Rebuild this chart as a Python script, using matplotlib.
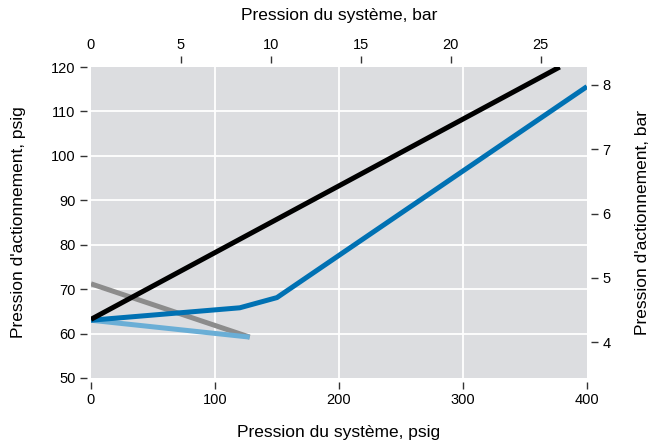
import matplotlib
matplotlib.use("Agg")
import matplotlib.pyplot as plt

plt.rcParams['font.family'] = ['Liberation Sans', 'DejaVu Sans']

PSI_PER_BAR = 14.5038

# Data (psig)
black_x = [0, 378]
black_y = [63.2, 120]
blue_x = [0, 120, 150, 400]
blue_y = [63.0, 65.8, 68.1, 115.6]
lightblue_x = [0, 128]
lightblue_y = [63.0, 59.2]
gray_x = [0, 128]
gray_y = [71.2, 59.2]

xticks_psig = [0, 100, 200, 300, 400]
yticks_psig = [50, 60, 70, 80, 90, 100, 110, 120]
xticks_bar = [0, 5, 10, 15, 20, 25]
yticks_bar = [4, 5, 6, 7, 8]

fig = plt.figure(figsize=(6.64, 4.45), dpi=100)
ax = fig.add_axes([0.137, 0.1506, 0.747, 0.6988])
ax.set_facecolor('#dcdde0')
ax.set_xlim(0, 400)
ax.set_ylim(50, 120)

for v in [100, 200, 300]:
    ax.axvline(v, color='white', lw=1.3, zorder=1)
for v in [60, 70, 80, 90, 100, 110]:
    ax.axhline(v, color='white', lw=1.3, zorder=1)

lw = 3.6
ax.plot(gray_x, gray_y, color='#8c8c8c', lw=lw, solid_capstyle='butt', zorder=3)
ax.plot(lightblue_x, lightblue_y, color='#6aaed6', lw=lw, solid_capstyle='butt', zorder=3)
ax.plot(blue_x, blue_y, color='#0071b3', lw=lw, solid_capstyle='butt', zorder=4)
ax.plot(black_x, black_y, color='black', lw=lw, solid_capstyle='butt', zorder=5)

tick_kw = dict(direction='out', length=5, width=1, color='#333333', labelsize=10.5,
               labelcolor='black', pad=3)


def hide_spines(a, offset_sides):
    for name, s in a.spines.items():
        s.set_visible(False)
        if name in offset_sides:
            s.set_position(('outward', 3))


ax.set_xticks(xticks_psig)
ax.set_yticks(yticks_psig)
ax.tick_params(axis='both', **tick_kw)
hide_spines(ax, ['left', 'bottom'])
for t in (ax.xaxis.get_major_ticks()[0], ax.xaxis.get_major_ticks()[-1]):
    t.tick1line.set_visible(False)
for t in (ax.yaxis.get_major_ticks()[0], ax.yaxis.get_major_ticks()[-1]):
    t.tick1line.set_visible(False)
ax.set_xlabel('Pression du système, psig', fontsize=12.5, labelpad=13)
ax.set_ylabel("Pression d'actionnement, psig", fontsize=12.5, labelpad=18)

axt = ax.twiny()
axt.set_xlim(0, 400 / PSI_PER_BAR)
axt.set_xticks(xticks_bar)
axt.tick_params(axis='x', **tick_kw)
hide_spines(axt, ['top'])
axt.xaxis.get_major_ticks()[0].tick2line.set_visible(False)
axt.set_xlabel('Pression du système, bar', fontsize=12.5, labelpad=13)

axr = ax.twinx()
axr.set_ylim(50 / PSI_PER_BAR, 120 / PSI_PER_BAR)
axr.set_yticks(yticks_bar)
axr.tick_params(axis='y', **tick_kw)
hide_spines(axr, ['right'])
axr.set_ylabel("Pression d'actionnement, bar", fontsize=12.5, labelpad=18)

fig.savefig('out.png', dpi=100)
